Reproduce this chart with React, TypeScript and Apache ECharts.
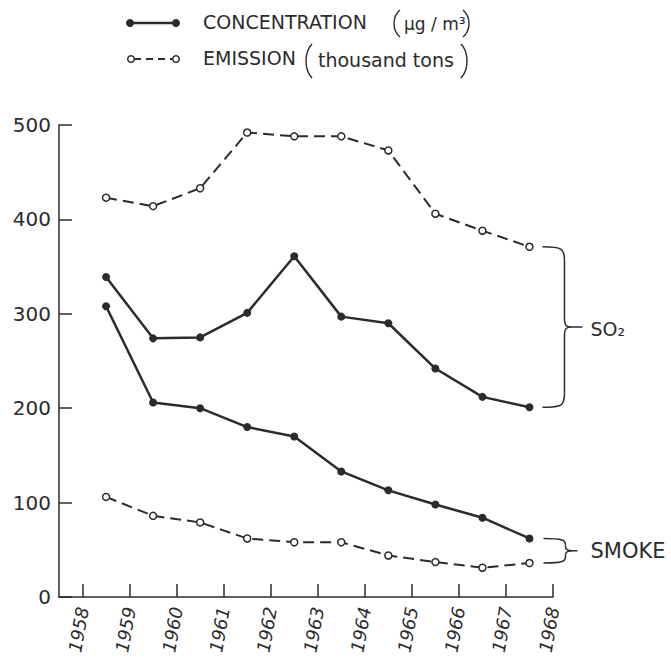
import React, { useEffect, useRef } from "react";
import * as echarts from "echarts";

// ---- data ----
const years = [1958.5, 1959.5, 1960.5, 1961.5, 1962.5, 1963.5, 1964.5, 1965.5, 1966.5, 1967.5];
const xTickYears = [1958, 1959, 1960, 1961, 1962, 1963, 1964, 1965, 1966, 1967, 1968];
const yTicks = [0, 100, 200, 300, 400, 500];
const so2Emission = [423, 414, 433, 492, 488, 488, 473, 406, 388, 371];
const so2Concentration = [339, 274, 275, 301, 361, 297, 290, 242, 212, 201];
const smokeConcentration = [308, 206, 200, 180, 170, 133, 113, 98, 84, 62];
const smokeEmission = [106, 86, 79, 62, 58, 58, 44, 37, 31, 36];
const legendNames = ["CONCENTRATION", "EMISSION"];
const legendUnits = ["μg / m³", "thousand tons"];
const groupLabels = ["SO₂", "SMOKE"];

const INK = "#2b2b2b";
const FONT = "DejaVu Sans";

const pairs = (vals: number[]) => years.map((x, i) => [x, vals[i]]);

const solidSeries = (name: string, vals: number[]) => ({
  type: "line",
  name,
  data: pairs(vals),
  symbol: "circle",
  symbolSize: 8,
  showAllSymbol: true,
  silent: true,
  lineStyle: { color: INK, width: 2.5 },
  itemStyle: { color: INK },
  emphasis: { disabled: true },
  z: 3,
});

const dashedSeries = (name: string, vals: number[]) => ({
  type: "line",
  name,
  data: pairs(vals),
  symbol: "circle",
  symbolSize: 7,
  showAllSymbol: true,
  silent: true,
  lineStyle: { color: INK, width: 2, type: [11, 6] },
  itemStyle: { color: "#ffffff", borderColor: INK, borderWidth: 1.5 },
  emphasis: { disabled: true },
  z: 3,
});

const strokeStyle = { stroke: INK, lineWidth: 1.5, fill: null as any };

const bez = (x1: number, y1: number, cpx1: number, cpy1: number, cpx2: number, cpy2: number, x2: number, y2: number, lw = 1.5) => ({
  type: "bezierCurve",
  silent: true,
  shape: { x1, y1, cpx1, cpy1, cpx2, cpy2, x2, y2 },
  style: { ...strokeStyle, lineWidth: lw },
});
const seg = (x1: number, y1: number, x2: number, y2: number, extra: any = {}) => ({
  type: "line",
  silent: true,
  shape: { x1, y1, x2, y2 },
  style: { ...strokeStyle, ...extra },
});

function brace(x0: number, yT: number, yB: number, xv: number, xTip: number, r: number, r2: number) {
  const ym = (yT + yB) / 2;
  return [
    bez(x0, yT, xv - 2, yT, xv, yT + 2, xv, yT + r),
    seg(xv, yT + r, xv, ym - r2),
    bez(xv, ym - r2, xv, ym - 1, xv + 2, ym, xv + 7, ym),
    bez(xv, ym + r2, xv, ym + 1, xv + 2, ym, xv + 7, ym),
    seg(xv + 7, ym, xTip, ym),
    seg(xv, ym + r2, xv, yB - r),
    bez(xv, yB - r, xv, yB - 2, xv - 2, yB, x0, yB),
  ];
}

const parenL = (x: number, y1: number, y2: number) =>
  bez(x + 7, y1, x - 1, y1 + (y2 - y1) * 0.25, x - 1, y1 + (y2 - y1) * 0.75, x + 7, y2, 1.4);
const parenR = (x: number, y1: number, y2: number) =>
  bez(x, y1, x + 8, y1 + (y2 - y1) * 0.25, x + 8, y1 + (y2 - y1) * 0.75, x, y2, 1.4);

const txt = (text: string, x: number, y: number, size: number, extra: any = {}) => ({
  type: "text",
  silent: true,
  x,
  y,
  style: {
    text,
    fill: INK,
    fontFamily: FONT,
    fontSize: size,
    verticalAlign: "middle",
    align: "left",
    ...extra,
  },
});

function legendGraphics() {
  return [
    // concentration row
    seg(130, 23, 176, 23, { lineWidth: 2.5 }),
    { type: "circle", silent: true, shape: { cx: 130, cy: 23, r: 4 }, style: { fill: INK } },
    { type: "circle", silent: true, shape: { cx: 176, cy: 23, r: 4 }, style: { fill: INK } },
    txt(legendNames[0], 203, 22, 19),
    parenL(393, 10, 37),
    txt(legendUnits[0], 404, 24, 17),
    parenR(463, 10, 37),
    // emission row
    seg(134, 59, 172, 59, { lineWidth: 2, lineDash: [7, 5] }),
    { type: "circle", silent: true, shape: { cx: 131, cy: 59, r: 3.3 }, style: { fill: "#fff", stroke: INK, lineWidth: 1.5 } },
    { type: "circle", silent: true, shape: { cx: 176, cy: 59, r: 3.3 }, style: { fill: "#fff", stroke: INK, lineWidth: 1.5 } },
    txt(legendNames[1], 203, 58, 19),
    parenL(305, 44, 78),
    txt(legendUnits[1], 318, 60, 19),
    parenR(461, 44, 78),
  ];
}

export default function App() {
  const ref = useRef<HTMLDivElement>(null);
  useEffect(() => {
    if (!ref.current) return;
    const chart = echarts.init(ref.current, null, { renderer: "svg" });
    const option: any = {
      animation: false,
      backgroundColor: "#ffffff",
      textStyle: { fontFamily: FONT, color: INK },
      grid: { left: 59, right: 118, top: 125, bottom: 61, containLabel: false },
      xAxis: {
        type: "value",
        min: 1957.5,
        max: 1968,
        splitLine: { show: false },
        axisLine: { show: true, lineStyle: { color: INK, width: 1.5 } },
        axisTick: { show: true, inside: true, length: 13, lineStyle: { color: INK, width: 1.5 }, customValues: xTickYears },
        axisLabel: {
          show: true,
          customValues: xTickYears,
          rotate: 80,
          margin: 10,
          padding: [12, 0, 0, 0],
          fontSize: 18,
          fontStyle: "italic",
          fontFamily: FONT,
          color: INK,
          formatter: (v: number) => String(v),
        },
      },
      yAxis: {
        type: "value",
        min: 0,
        max: 500,
        interval: 100,
        splitLine: { show: false },
        axisLine: { show: true, lineStyle: { color: INK, width: 1.5 } },
        axisTick: { show: true, inside: true, length: 13, lineStyle: { color: INK, width: 1.5 } },
        axisLabel: {
          show: true,
          margin: 8,
          fontSize: 20,
          fontFamily: FONT,
          color: INK,
          formatter: (v: number) => (yTicks.includes(v) ? String(v) : ""),
        },
      },
      series: [
        dashedSeries("SO2 emission", so2Emission),
        solidSeries("SO2 concentration", so2Concentration),
        solidSeries("Smoke concentration", smokeConcentration),
        dashedSeries("Smoke emission", smokeEmission),
      ],
    };
    chart.setOption(option);

    const last = years.length - 1;
    const px = (x: number, y: number) => chart.convertToPixel({ gridIndex: 0 }, [x, y]) as number[];
    const so2Top = px(years[last], so2Emission[last]);
    const so2Bot = px(years[last], so2Concentration[last]);
    const smTop = px(years[last], smokeConcentration[last]);
    const smBot = px(years[last], smokeEmission[last]);
    const x0 = so2Top[0] + 13;

    const graphics: any[] = [
      ...legendGraphics(),
      ...brace(x0, so2Top[1], so2Bot[1], x0 + 22, x0 + 40, 14, 9),
      txt(groupLabels[0], x0 + 48, (so2Top[1] + so2Bot[1]) / 2 + 2, 19),
      ...brace(x0 + 1, smTop[1], smBot[1], x0 + 23, x0 + 35, 6, 4),
      txt(groupLabels[1], x0 + 48, (smTop[1] + smBot[1]) / 2, 21),
    ];
    chart.setOption({ graphic: { elements: graphics } });

    return () => chart.dispose();
  }, []);
  return (
    <div
      ref={ref}
      style={{ position: "fixed", left: 0, top: 0, width: 671, height: 658, background: "#fff" }}
    />
  );
}
